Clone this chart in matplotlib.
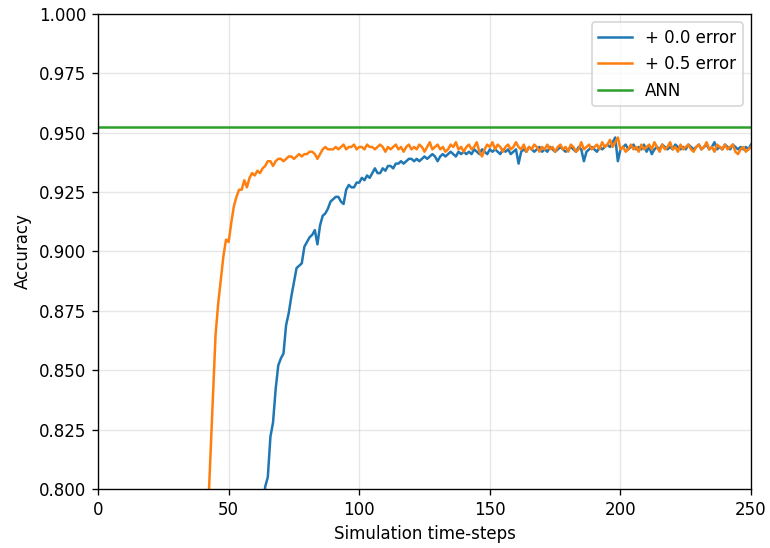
import numpy as np
import matplotlib
matplotlib.use("Agg")
import matplotlib.pyplot as plt

# simulation time-steps
steps = np.arange(1, 251)

# accuracy per time-step, + 0.0 error
acc_00 = [
    0.098, 0.098, 0.098, 0.098, 0.098, 0.098, 0.098, 0.098, 0.098, 0.098,
    0.098, 0.098, 0.098, 0.098, 0.098, 0.098, 0.098, 0.098, 0.098, 0.098,
    0.098, 0.098, 0.098, 0.098, 0.098, 0.098, 0.098, 0.098, 0.098, 0.098,
    0.098, 0.098, 0.098, 0.098, 0.098, 0.098, 0.098, 0.098, 0.098, 0.098,
    0.098, 0.098, 0.098, 0.098, 0.099, 0.100, 0.102, 0.106, 0.112, 0.125,
    0.150, 0.190, 0.250, 0.320, 0.400, 0.480, 0.560, 0.630, 0.690, 0.730,
    0.760, 0.778, 0.790, 0.801, 0.805, 0.822, 0.828, 0.842, 0.852, 0.855,
    0.857, 0.869, 0.874, 0.881, 0.887, 0.893, 0.894, 0.895, 0.902, 0.904,
    0.906, 0.907, 0.909, 0.903, 0.911, 0.915, 0.916, 0.918, 0.921, 0.922,
    0.923, 0.923, 0.921, 0.920, 0.926, 0.928, 0.927, 0.927, 0.929, 0.929,
    0.931, 0.930, 0.932, 0.931, 0.933, 0.935, 0.933, 0.933, 0.935, 0.934,
    0.936, 0.936, 0.935, 0.937, 0.937, 0.938, 0.937, 0.938, 0.939, 0.939,
    0.938, 0.939, 0.938, 0.939, 0.940, 0.939, 0.940, 0.941, 0.940, 0.938,
    0.940, 0.941, 0.940, 0.941, 0.942, 0.941, 0.940, 0.942, 0.941, 0.942,
    0.941, 0.942, 0.941, 0.943, 0.942, 0.941, 0.943, 0.942, 0.941, 0.943,
    0.942, 0.943, 0.942, 0.941, 0.943, 0.942, 0.943, 0.941, 0.942, 0.943,
    0.937, 0.942, 0.943, 0.942, 0.944, 0.943, 0.942, 0.943, 0.944, 0.942,
    0.943, 0.942, 0.944, 0.943, 0.942, 0.943, 0.944, 0.943, 0.942, 0.943,
    0.944, 0.943, 0.942, 0.944, 0.943, 0.938, 0.942, 0.943, 0.944, 0.943,
    0.942, 0.944, 0.943, 0.944, 0.945, 0.944, 0.946, 0.948, 0.938, 0.943,
    0.944, 0.945, 0.943, 0.944, 0.945, 0.943, 0.944, 0.943, 0.945, 0.942,
    0.944, 0.941, 0.943, 0.944, 0.943, 0.945, 0.944, 0.943, 0.944, 0.943,
    0.945, 0.944, 0.943, 0.944, 0.943, 0.945, 0.944, 0.943, 0.944, 0.945,
    0.943, 0.944, 0.945, 0.943, 0.944, 0.946, 0.943, 0.944, 0.943, 0.945,
    0.944, 0.943, 0.945, 0.944, 0.943, 0.944, 0.943, 0.944, 0.943, 0.945,
]

# accuracy per time-step, + 0.5 error
acc_05 = [
    0.098, 0.098, 0.098, 0.098, 0.098, 0.098, 0.098, 0.098, 0.098, 0.098,
    0.098, 0.098, 0.098, 0.098, 0.098, 0.098, 0.098, 0.098, 0.098, 0.098,
    0.098, 0.098, 0.098, 0.098, 0.098, 0.099, 0.100, 0.102, 0.105, 0.110,
    0.120, 0.140, 0.180, 0.240, 0.310, 0.390, 0.470, 0.550, 0.620, 0.680,
    0.740, 0.787, 0.813, 0.840, 0.865, 0.878, 0.888, 0.898, 0.905, 0.904,
    0.912, 0.919, 0.923, 0.926, 0.926, 0.930, 0.927, 0.931, 0.933, 0.932,
    0.934, 0.933, 0.935, 0.936, 0.938, 0.938, 0.936, 0.938, 0.939, 0.939,
    0.938, 0.939, 0.940, 0.940, 0.939, 0.940, 0.941, 0.940, 0.941, 0.941,
    0.942, 0.942, 0.941, 0.939, 0.941, 0.943, 0.944, 0.943, 0.943, 0.943,
    0.944, 0.943, 0.944, 0.945, 0.943, 0.944, 0.944, 0.945, 0.943, 0.944,
    0.944, 0.943, 0.945, 0.944, 0.944, 0.943, 0.944, 0.945, 0.944, 0.942,
    0.944, 0.943, 0.944, 0.945, 0.943, 0.944, 0.942, 0.944, 0.945, 0.943,
    0.944, 0.943, 0.945, 0.944, 0.942, 0.944, 0.946, 0.943, 0.944, 0.945,
    0.943, 0.944, 0.942, 0.943, 0.945, 0.944, 0.946, 0.943, 0.944, 0.942,
    0.944, 0.945, 0.943, 0.944, 0.946, 0.942, 0.940, 0.943, 0.945, 0.944,
    0.946, 0.943, 0.945, 0.944, 0.942, 0.944, 0.945, 0.943, 0.944, 0.946,
    0.944, 0.943, 0.945, 0.942, 0.944, 0.943, 0.945, 0.944, 0.942, 0.944,
    0.943, 0.945, 0.943, 0.944, 0.942, 0.944, 0.945, 0.943, 0.944, 0.942,
    0.945, 0.944, 0.942, 0.943, 0.946, 0.943, 0.944, 0.945, 0.943, 0.944,
    0.945, 0.943, 0.946, 0.944, 0.945, 0.947, 0.944, 0.946, 0.948, 0.943,
    0.944, 0.942, 0.943, 0.945, 0.943, 0.944, 0.942, 0.945, 0.943, 0.944,
    0.945, 0.943, 0.946, 0.944, 0.942, 0.945, 0.943, 0.944, 0.946, 0.943,
    0.944, 0.942, 0.945, 0.943, 0.944, 0.945, 0.943, 0.942, 0.944, 0.945,
    0.943, 0.944, 0.946, 0.943, 0.944, 0.942, 0.945, 0.944, 0.943, 0.945,
    0.943, 0.944, 0.945, 0.942, 0.941, 0.943, 0.944, 0.942, 0.943, 0.944,
]

ann_acc = 0.9524

# the reference looks like a 1.2x scaled render, so draw at dpi 120
fig = plt.figure(figsize=(770 / 120, 548 / 120), dpi=120)
ax = fig.add_axes([0.1273, 0.1077, 0.8481, 0.8668])

ax.plot(steps, acc_00, label="+ 0.0 error")
ax.plot(steps, acc_05, label="+ 0.5 error")
ax.axhline(ann_acc, color="tab:green", label="ANN")

ax.set_xlim(0, 250)
ax.set_ylim(0.8, 1.0)
ax.set_xlabel("Simulation time-steps")
ax.set_ylabel("Accuracy")
# title sits mostly above the top edge, only its descenders show (as in the reference)
ax.set_title("Spike timing error on MNIST", pad=11)
ax.grid(True, alpha=0.3)
ax.legend(loc="upper right")

fig.savefig("out.png", dpi=120)
